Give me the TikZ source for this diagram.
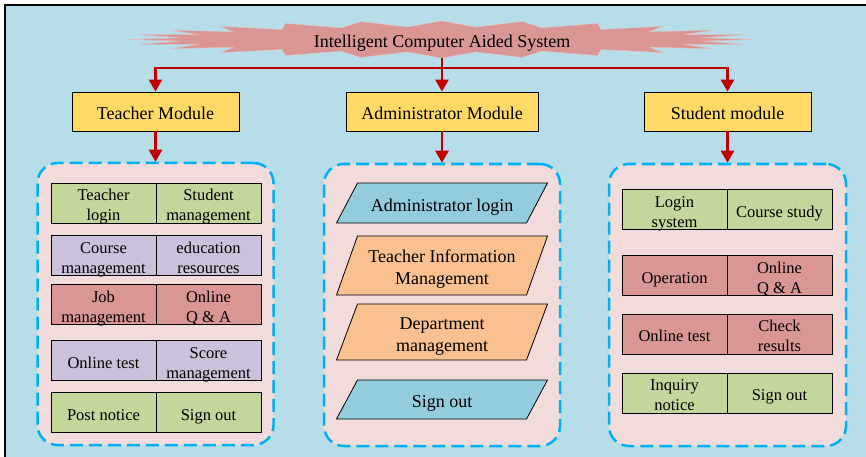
\documentclass[tikz,border=0pt]{standalone}
\usepackage{fontspec}
\setmainfont{Liberation Serif}
\usetikzlibrary{arrows.meta}
\definecolor{bgblue}{HTML}{B7DEE8}
\definecolor{bannerred}{HTML}{D99694}
\definecolor{bannerlight}{HTML}{E6B9B8}
\definecolor{arrred}{HTML}{C00000}
\definecolor{modyellow}{HTML}{FFD966}
\definecolor{panelpink}{HTML}{F2DCDB}
\definecolor{dashblue}{HTML}{00B0F0}
\definecolor{cellgreen}{HTML}{C3D69B}
\definecolor{celllav}{HTML}{CCC1DA}
\definecolor{cellred}{HTML}{D99694}
\definecolor{parablue}{HTML}{93CDDD}
\definecolor{paraorange}{HTML}{FAC090}
\tikzset{
  arr/.style={draw=arrred, line width=2.5pt, -{Triangle[width=13pt,length=12pt]}, line join=miter},
  bigtext/.style={font=\fontsize{18}{22}\selectfont, text height=18pt, text depth=1.9pt},
  bigtwo/.style={text height=40pt},
  modbox/.style={draw=black, fill=modyellow, line width=0.8pt, minimum height=39pt, inner sep=0pt, bigtext},
  panel/.style={draw=dashblue, fill=panelpink, line width=2.5pt, dash pattern=on 13pt off 6pt, rounded corners=20pt, minimum width=236pt, minimum height=282pt},
  cellbox/.style={draw=black, line width=0.8pt, minimum width=105pt, minimum height=40pt, inner sep=0pt, align=center, font=\fontsize{16.5}{20}\selectfont, text height=16.7pt, text depth=1.6pt},
  celltwo/.style={text height=36.7pt},
  paratext/.style={align=center, inner sep=0pt, bigtext},
  parashape/.style={draw=black, line width=0.8pt}
}
\begin{document}
\begin{tikzpicture}[x=1pt,y=-1pt]
\useasboundingbox (0,0) rectangle (866,457);
\fill[white] (0,0) rectangle (866,457);
\fill[bgblue] (5,5) rectangle (866,457);
\draw[black, line width=1.5pt] (5,457) -- (5,5) -- (866,5);

% banner
\fill[bannerred, draw=bannerlight, line width=0.4pt] (753.5,39.5)
  \foreach \i [evaluate=\i as \rx using {mod(\i,2)==0 ? 312 : 262},
               evaluate=\i as \ry using {mod(\i,2)==0 ? 18.5 : 12.5}] in {1,...,47}
  { -- ({441.5+\rx*cos(\i*7.5)},{39.5+\ry*sin(\i*7.5)}) } -- cycle;
\node[minimum width=600pt, minimum height=37pt, inner sep=0pt, bigtext] (title) at (442,39.5) {Intelligent Computer Aided System};

% modules
\node[modbox, minimum width=167pt] (teacher) at (155.5,111.5) {Teacher Module};
\node[modbox, minimum width=192pt] (admin) at (442,111.5) {Administrator Module};
\node[modbox, minimum width=167pt] (student) at (727.5,111.5) {Student module};

\coordinate (hub) at (442,68);
\draw[arr] (title.south) -- (admin.north);
\draw[arr] (hub) -| (teacher.north);
\draw[arr] (hub) -| (student.north);

% panels
\node[panel] (tp) at (155.5,304) {};
\node[panel] (ap) at (442,305) {};
\node[panel, minimum width=237pt] (sp) at (727.5,305) {};
\draw[arr] (teacher.south) -- (tp.north);
\draw[arr] (admin.south) -- (ap.north);
\draw[arr] (student.south) -- (sp.north);

% teacher cells
\node[cellbox, celltwo, fill=cellgreen] (t1a) at (103.5,203) {Teacher\\login};
\node[cellbox, celltwo, fill=cellgreen] (t1b) at (208.5,203) {Student\\management};
\node[cellbox, celltwo, fill=celllav] (t2a) at (103.5,255.5) {Course\\management};
\node[cellbox, celltwo, fill=celllav] (t2b) at (208.5,255.5) {education\\resources};
\node[cellbox, celltwo, fill=cellred] (t3a) at (103.5,304.5) {Job\\management};
\node[cellbox, celltwo, fill=cellred] (t3b) at (208.5,304.5) {Online\\Q \& A};
\node[cellbox, fill=celllav] (t4a) at (103.5,360.5) {Online test};
\node[cellbox, celltwo, fill=celllav] (t4b) at (208.5,360.5) {Score\\management};
\node[cellbox, fill=cellgreen] (t5a) at (103.5,412.5) {Post notice};
\node[cellbox, fill=cellgreen] (t5b) at (208.5,412.5) {Sign out};

% administrator parallelograms
\filldraw[parashape, fill=parablue] (336.5,223) -- (357.5,183) -- (547.5,183) -- (526.5,223) -- cycle;
\node[paratext] (a1) at (442,203) {Administrator login};
\filldraw[parashape, fill=paraorange] (336.5,295) -- (357.5,236) -- (547.5,236) -- (526.5,295) -- cycle;
\node[paratext, bigtwo] (a2) at (442,265.5) {Teacher Information\\Management};
\filldraw[parashape, fill=paraorange] (336.5,360) -- (357.5,304) -- (547.5,304) -- (526.5,360) -- cycle;
\node[paratext, bigtwo] (a3) at (442,332) {Department\\management};
\filldraw[parashape, fill=parablue] (336.5,419) -- (357.5,380) -- (547.5,380) -- (526.5,419) -- cycle;
\node[paratext] (a4) at (442,399.5) {Sign out};

% student cells
\node[cellbox, celltwo, fill=cellgreen] (s1a) at (674.5,209.5) {Login\\system};
\node[cellbox, fill=cellgreen] (s1b) at (779.5,209.5) {Course study};
\node[cellbox, fill=cellred] (s2a) at (674.5,275.5) {Operation};
\node[cellbox, celltwo, fill=cellred] (s2b) at (779.5,275.5) {Online\\Q \& A};
\node[cellbox, fill=cellred] (s3a) at (674.5,334) {Online test};
\node[cellbox, celltwo, fill=cellred] (s3b) at (779.5,334) {Check\\results};
\node[cellbox, celltwo, fill=cellgreen] (s4a) at (674.5,393) {Inquiry\\notice};
\node[cellbox, fill=cellgreen] (s4b) at (779.5,393) {Sign out};
\end{tikzpicture}
\end{document}
